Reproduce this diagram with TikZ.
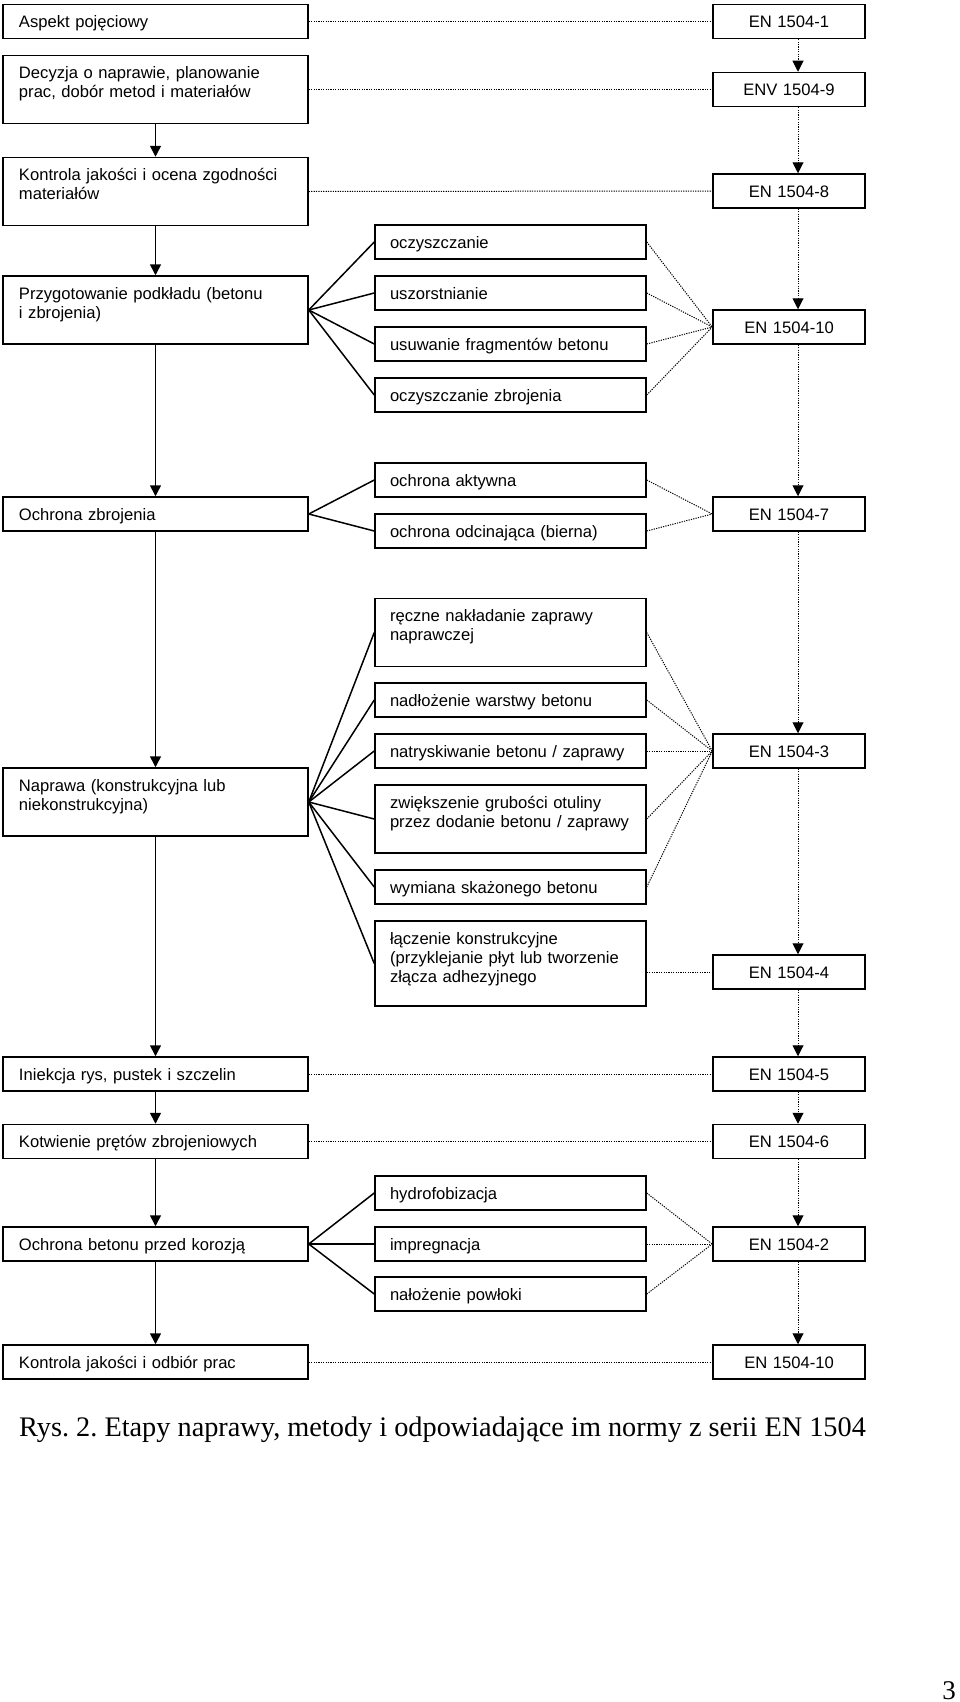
\documentclass[tikz,border=0pt]{standalone}
\usepackage{fontspec}
\setmainfont{Liberation Sans}
\newfontfamily\capfont{Liberation Serif}
\usetikzlibrary{arrows.meta}
\begin{document}
\begin{tikzpicture}[x=1pt,y=-1pt,
 every node/.style={font=\fontsize{16.6pt}{19.3pt}\selectfont},
 lbox/.style={draw, line width=1.5pt, text width=273pt, inner xsep=16pt, inner ysep=0pt, align=left, text height=23pt, text depth=#1},
 lbox/.default=11pt,
 mbox/.style={draw, line width=1.5pt, text width=241pt, inner xsep=15pt, inner ysep=0pt, align=left, text height=23pt, text depth=#1},
 mbox/.default=11pt,
 rbox/.style={draw, line width=1.5pt, text width=152pt, inner xsep=0pt, inner ysep=0pt, align=center, text height=23pt, text depth=11pt},
 flow/.style={line width=1.5pt, -{Triangle[length=11pt,width=11pt]}},
 nflow/.style={line width=1pt, dash pattern=on 1.2pt off 1.2pt, -{Triangle[length=11pt,width=11pt]}},
 fan/.style={line width=1.5pt},
 link/.style={line width=1pt, dash pattern=on 1.2pt off 1.2pt},
]
\fill[white] (0,0) rectangle (960,1702);
\useasboundingbox (0,0) rectangle (960,1702);

% left column
\node[lbox] (L1) at (155.5,21.5) {Aspekt pojęciowy};
\node[lbox=45pt] (L2) at (155.5,89.5) {Decyzja o naprawie, planowanie\\prac, dobór metod i materiałów};
\node[lbox=45pt] (L3) at (155.5,191.5) {Kontrola jakości i ocena zgodności\\materiałów};
\node[lbox=45pt] (L4) at (155.5,310) {Przygotowanie podkładu (betonu\\i zbrojenia)};
\node[lbox] (L5) at (155.5,514) {Ochrona zbrojenia};
\node[lbox=45pt] (L6) at (155.5,802) {Naprawa (konstrukcyjna lub\\niekonstrukcyjna)};
\node[lbox] (L7) at (155.5,1074) {Iniekcja rys, pustek i szczelin};
\node[lbox] (L8) at (155.5,1141.5) {Kotwienie prętów zbrojeniowych};
\node[lbox] (L9) at (155.5,1244) {Ochrona betonu przed korozją};
\node[lbox] (L10) at (155.5,1362) {Kontrola jakości i odbiór prac};

% middle column
\node[mbox] (M1) at (510.5,242) {oczyszczanie};
\node[mbox] (M2) at (510.5,293) {uszorstnianie};
\node[mbox] (M3) at (510.5,344) {usuwanie fragmentów betonu};
\node[mbox] (M4) at (510.5,395) {oczyszczanie zbrojenia};
\node[mbox] (M5) at (510.5,480) {ochrona aktywna};
\node[mbox] (M6) at (510.5,531) {ochrona odcinająca (bierna)};
\node[mbox=45pt] (M7) at (510.5,632.5) {ręczne nakładanie zaprawy\\naprawczej};
\node[mbox] (M8) at (510.5,700) {nadłożenie warstwy betonu};
\node[mbox] (M9) at (510.5,751) {natryskiwanie betonu / zaprawy};
\node[mbox=45pt] (M10) at (510.5,819) {zwiększenie grubości otuliny\\przez dodanie betonu / zaprawy};
\node[mbox] (M11) at (510.5,887) {wymiana skażonego betonu};
\node[mbox=62pt] (M12) at (510.5,963.5) {łączenie konstrukcyjne\\(przyklejanie płyt lub tworzenie\\złącza adhezyjnego};
\node[mbox] (M13) at (510.5,1193) {hydrofobizacja};
\node[mbox] (M14) at (510.5,1244) {impregnacja};
\node[mbox] (M15) at (510.5,1294) {nałożenie powłoki};

% right column
\node[rbox] (R1) at (789,21.5) {EN 1504-1};
\node[rbox] (R2) at (789,89.5) {ENV 1504-9};
\node[rbox] (R3) at (789,191) {EN 1504-8};
\node[rbox] (R4) at (789,327) {EN 1504-10};
\node[rbox] (R5) at (789,514) {EN 1504-7};
\node[rbox] (R6) at (789,751) {EN 1504-3};
\node[rbox] (R7) at (789,972) {EN 1504-4};
\node[rbox] (R8) at (789,1074) {EN 1504-5};
\node[rbox] (R9) at (789,1141.5) {EN 1504-6};
\node[rbox] (R10) at (789,1244) {EN 1504-2};
\node[rbox] (R11) at (789,1362) {EN 1504-10};

% main flow
\foreach \a/\b in {L2/L3,L3/L4,L4/L5,L5/L6,L6/L7,L7/L8,L8/L9,L9/L10}
  \draw[flow] (\a) -- (\b);
% norm flow
\foreach \a/\b in {R1/R2,R2/R3,R3/R4,R4/R5,R5/R6,R6/R7,R7/R8,R8/R9,R9/R10,R10/R11}
  \draw[nflow] ([xshift=9pt]\a.south) -- ([xshift=9pt]\b.north);

% fans
\foreach \m in {M1,M2,M3,M4} \draw[fan] (L4.east) -- (\m.west);
\foreach \m in {M5,M6} \draw[fan] (L5.east) -- (\m.west);
\foreach \m in {M7,M8,M9,M10,M11,M12} \draw[fan] (L6.east) -- (\m.west);
\foreach \m in {M13,M14,M15} \draw[fan] (L9.east) -- (\m.west);

% dotted links
\foreach \a/\b in {L1/R1,L2/R2,L3/R3,L7/R8,L8/R9,L10/R11}
  \draw[link] (\a.east) -- (\b.west);
\foreach \m in {M1,M2,M3,M4} \draw[link] (\m.east) -- (R4.west);
\foreach \m in {M5,M6} \draw[link] (\m.east) -- (R5.west);
\foreach \m in {M7,M8,M9,M10,M11} \draw[link] (\m.east) -- (R6.west);
\draw[link] (R7.west -| M12.east) -- (R7.west);
\foreach \m in {M13,M14,M15} \draw[link] (\m.east) -- (R10.west);

% caption and page number
\node[font=\capfont\fontsize{28.3pt}{32pt}\selectfont\frenchspacing, anchor=base west, inner sep=0pt] (cap) at (19,1436) {Rys. 2. Etapy naprawy, metody i odpowiadające im normy z serii EN 1504};
\node[font=\capfont\fontsize{27pt}{30pt}\selectfont, anchor=base east, inner sep=0pt] (pg) at (956,1699) {3};
\end{tikzpicture}
\end{document}
